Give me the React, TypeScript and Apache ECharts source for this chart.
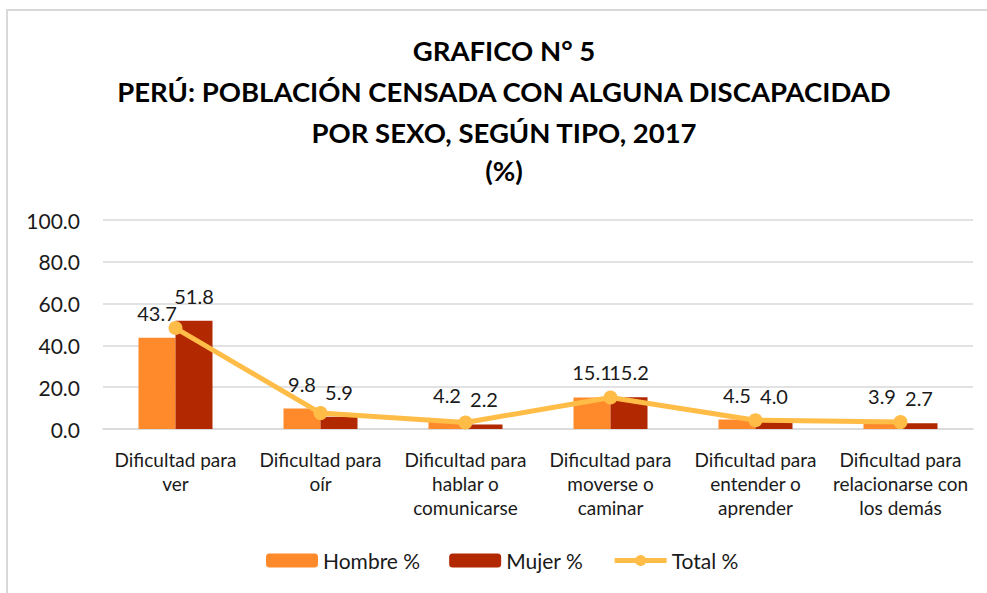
import React, { useEffect, useRef } from "react";
import * as echarts from "echarts";

const categories = [
  "Dificultad para\nver",
  "Dificultad para\noír",
  "Dificultad para\nhablar o\ncomunicarse",
  "Dificultad para\nmoverse o\ncaminar",
  "Dificultad para\nentender o\naprender",
  "Dificultad para\nrelacionarse con\nlos demás",
];
const hombre = [43.7, 9.8, 4.2, 15.1, 4.5, 3.9];
const mujer = [51.8, 5.9, 2.2, 15.2, 4.0, 2.7];
const total = [48.3, 7.6, 3.1, 15.1, 4.2, 3.3];
const titleLines = [
  "GRAFICO N° 5",
  "PERÚ: POBLACIÓN CENSADA CON ALGUNA DISCAPACIDAD",
  "POR SEXO, SEGÚN TIPO, 2017",
  "(%)",
];
const titleYs = [50, 91, 132, 170];

const FONT = "Lato";

export default function App() {
  const ref = useRef<HTMLDivElement>(null);
  useEffect(() => {
    document.body.style.margin = "0";
    const chart = echarts.init(ref.current!, null, { renderer: "svg" });
    const label = {
      show: true,
      position: "top" as const,
      distance: 15,
      fontSize: 20,
      fontFamily: FONT,
      color: "#1a1a1a",
      formatter: (p: any) => Number(p.value).toFixed(1),
    };
    chart.setOption({
      animation: false,
      backgroundColor: "#ffffff",
      graphic: [
        {
          type: "rect",
          shape: { x: 7, y: 10, width: 990, height: 600 },
          style: { fill: "none", stroke: "#d9d9d9", lineWidth: 2 },
          silent: true,
        },
        ...titleLines.map((t, i) => ({
          type: "text",
          x: 504,
          y: titleYs[i],
          silent: true,
          style: {
            text: t,
            fill: "#000",
            font: `bold 27.5px ${FONT}`,
            align: "center",
            verticalAlign: "middle",
            textAlign: "center",
            textVerticalAlign: "middle",
          },
        })),
      ],
      grid: { left: 103, right: 14, top: 220, bottom: 164 },
      legend: {
        top: 550,
        left: 266,
        padding: 0,
        itemWidth: 52,
        itemHeight: 14,
        itemGap: 29,
        textStyle: { fontFamily: FONT, fontSize: 21, color: "#1a1a1a" },
        data: [
          { name: "Hombre %" },
          { name: "Mujer %" },
          { name: "Total %", lineStyle: { width: 5 } },
        ],
      },
      xAxis: {
        type: "category",
        data: categories,
        axisLine: { lineStyle: { color: "#d9d9d9", width: 1.5 } },
        axisTick: { show: false },
        axisLabel: {
          interval: 0,
          margin: 18,
          fontFamily: FONT,
          fontSize: 19,
          lineHeight: 24,
          color: "#1a1a1a",
          align: "center",
        },
      },
      yAxis: {
        type: "value",
        min: 0,
        max: 100,
        interval: 20,
        axisLine: { show: false },
        axisTick: { show: false },
        splitLine: { lineStyle: { color: "#d9d9d9", width: 1.5 } },
        axisLabel: {
          margin: 23,
          fontFamily: FONT,
          fontSize: 21,
          color: "#1a1a1a",
          formatter: (v: number) => v.toFixed(1),
        },
      },
      series: [
        {
          name: "Hombre %",
          type: "bar",
          data: hombre,
          barWidth: 37,
          barGap: "0%",
          itemStyle: { color: "#FF8A2B" },
          label,
        },
        {
          name: "Mujer %",
          type: "bar",
          data: mujer,
          barWidth: 37,
          barGap: "0%",
          itemStyle: { color: "#B22800" },
          label,
        },
        {
          name: "Total %",
          type: "line",
          data: total,
          symbol: "circle",
          symbolSize: 14,
          lineStyle: { color: "#FFBC47", width: 5 },
          itemStyle: { color: "#FFBC47" },
          z: 5,
        },
      ],
    });
    return () => chart.dispose();
  }, []);
  return <div ref={ref} style={{ width: 987, height: 593 }} />;
}
